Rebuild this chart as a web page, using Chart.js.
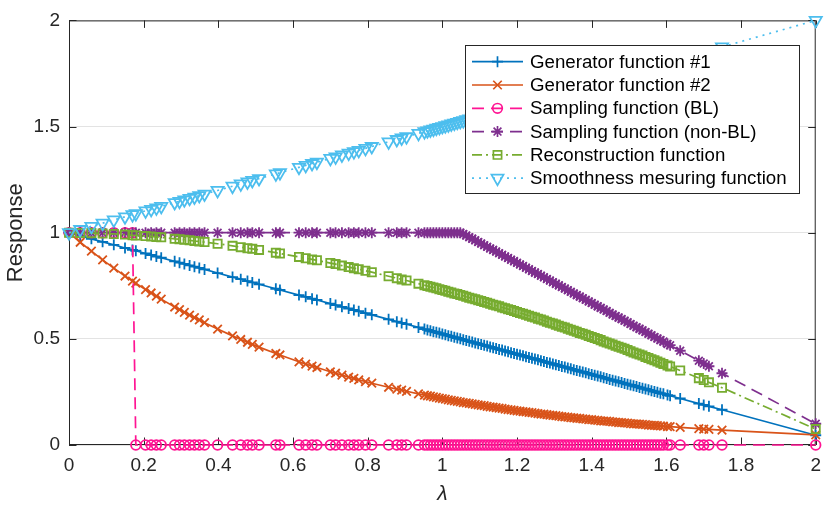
<!DOCTYPE html>
<html lang="en">
<head>
<meta charset="UTF-8">
<title>Response vs lambda</title>
<script src="https://cdn.jsdelivr.net/npm/chart.js"></script>
<style>
  body { margin: 0; background: #fff; }
  #wrap { width: 830px; height: 510px; }
</style>
</head>
<body>
<div id="wrap"><canvas id="chart"></canvas></div>
<script>
// graph frequencies (lambda)
var lambda = [
  0, 0.03, 0.06, 0.09, 0.12, 0.15, 0.17,
  0.179, 0.205, 0.22, 0.234, 0.247, 0.283, 0.296, 0.309, 0.323, 0.336, 0.349, 0.363,
  0.398, 0.438, 0.46, 0.478, 0.491, 0.509,
  0.554, 0.565, 0.616, 0.634, 0.651, 0.664,
  0.70, 0.714, 0.731, 0.749, 0.763, 0.776, 0.794, 0.811,
  0.856, 0.878, 0.891, 0.904, 0.936,
  0.952, 0.96, 0.968, 0.976, 0.984, 0.992, 1.0, 1.008, 1.016, 1.024,
  1.032, 1.04, 1.048, 1.056, 1.064, 1.072, 1.08, 1.088, 1.096, 1.104,
  1.112, 1.12, 1.128, 1.136, 1.144, 1.152, 1.16, 1.168, 1.176, 1.184,
  1.192, 1.2, 1.208, 1.216, 1.224, 1.232, 1.24, 1.248, 1.256, 1.264,
  1.272, 1.28, 1.288, 1.296, 1.304, 1.312, 1.32, 1.328, 1.336, 1.344,
  1.352, 1.36, 1.368, 1.376, 1.384, 1.392, 1.4, 1.408, 1.416, 1.424,
  1.432, 1.44, 1.448, 1.456, 1.464, 1.472, 1.48, 1.488, 1.496, 1.504,
  1.512, 1.52, 1.528, 1.536, 1.544, 1.552, 1.56, 1.568, 1.576, 1.584,
  1.592,
  1.603, 1.61, 1.637, 1.687, 1.70, 1.714, 1.749, 2.0
];

var gen1 = [
  1, .986, .971, .957, .943, .928, .919,
  .915, .902, .895, .888, .882, .865, .859, .853, .846, .840, .834, .827,
  .810, .791, .781, .772, .766, .757,
  .736, .730, .706, .698, .689, .683,
  .666, .659, .651, .643, .636, .630, .621, .613,
  .592, .581, .575, .569, .554,
  .546, .542, .538, .534, .531, .527, .523, .519, .515, .512,
  .508, .504, .500, .496, .492, .489, .485, .481, .477, .473,
  .470, .466, .462, .458, .454, .450, .447, .443, .439, .435,
  .431, .428, .424, .420, .416, .412, .409, .405, .401, .397,
  .393, .389, .386, .382, .378, .374, .370, .367, .363, .359,
  .355, .351, .347, .344, .340, .336, .332, .328, .325, .321,
  .317, .313, .309, .305, .302, .298, .294, .290, .286, .283,
  .279, .275, .271, .267, .264, .260, .256, .252, .248, .244,
  .241,
  .235, .232, .219, .195, .189, .182, .166, .046
];

var gen2 = [
  1, .955, .913, .872, .833, .796, .772,
  .762, .732, .716, .701, .687, .650, .638, .625, .612, .600, .589, .576,
  .546, .514, .497, .484, .474, .461,
  .431, .424, .392, .381, .372, .365,
  .345, .338, .329, .320, .314, .307, .299, .291,
  .272, .263, .258, .253, .241,
  .235, .232, .230, .227, .224, .221, .219, .216, .213, .210,
  .208, .205, .203, .200, .198, .196, .194, .191, .189, .187,
  .185, .182, .180, .178, .176, .174, .172, .169, .167, .165,
  .163, .161, .159, .157, .156, .154, .152, .150, .148, .146,
  .145, .143, .141, .139, .138, .136, .134, .132, .131, .129,
  .128, .126, .125, .123, .122, .120, .119, .117, .116, .114,
  .113, .112, .111, .109, .108, .106, .105, .104, .103, .101,
  .100, .099, .098, .097, .096, .094, .093, .092, .091, .090,
  .089,
  .087, .087, .083, .077, .075, .074, .070, .048
];

var sampBL = [
  1, 1, 1, 1, 1, 1, 1,
  0, 0, 0, 0, 0, 0, 0, 0, 0, 0, 0, 0,
  0, 0, 0, 0, 0, 0,
  0, 0, 0, 0, 0, 0,
  0, 0, 0, 0, 0, 0, 0, 0,
  0, 0, 0, 0, 0,
  0, 0, 0, 0, 0, 0, 0, 0, 0, 0,
  0, 0, 0, 0, 0, 0, 0, 0, 0, 0,
  0, 0, 0, 0, 0, 0, 0, 0, 0, 0,
  0, 0, 0, 0, 0, 0, 0, 0, 0, 0,
  0, 0, 0, 0, 0, 0, 0, 0, 0, 0,
  0, 0, 0, 0, 0, 0, 0, 0, 0, 0,
  0, 0, 0, 0, 0, 0, 0, 0, 0, 0,
  0, 0, 0, 0, 0, 0, 0, 0, 0, 0,
  0,
  0, 0, 0, 0, 0, 0, 0, 0
];

var sampNonBL = [
  1, 1, 1, 1, 1, 1, 1,
  1, 1, 1, 1, 1, 1, 1, 1, 1, 1, 1, 1,
  1, 1, 1, 1, 1, 1,
  1, 1, 1, 1, 1, 1,
  1, 1, 1, 1, 1, 1, 1, 1,
  1, 1, 1, 1, 1,
  1, 1, 1, 1, 1, 1, 1, 1, 1, 1,
  1, 1, 1, .994, .987, .979, .972, .964, .956, .949,
  .941, .934, .926, .919, .911, .903, .896, .888, .881, .873,
  .866, .858, .850, .843, .835, .828, .820, .812, .805, .797,
  .790, .782, .775, .767, .759, .752, .744, .737, .729, .722,
  .714, .706, .699, .691, .684, .676, .669, .661, .653, .646,
  .638, .631, .623, .615, .608, .600, .593, .585, .578, .570,
  .562, .555, .547, .540, .532, .524, .517, .509, .502, .494,
  .487,
  .476, .470, .444, .397, .384, .371, .338, .100
];

var recon = [
  1, .999, .998, .996, .994, .991, .988,
  .987, .984, .982, .980, .978, .971, .969, .967, .964, .961, .959, .956,
  .948, .938, .932, .927, .924, .919,
  .906, .902, .886, .880, .874, .870,
  .857, .852, .845, .838, .833, .828, .821, .814,
  .795, .786, .780, .775, .760,
  .753, .749, .745, .742, .738, .734, .730, .726, .722, .718,
  .714, .711, .707, .703, .698, .694, .690, .686, .682, .678,
  .674, .670, .665, .661, .657, .653, .648, .644, .640, .636,
  .631, .627, .622, .618, .613, .609, .604, .600, .595, .591,
  .586, .581, .576, .572, .567, .562, .557, .553, .548, .543,
  .538, .533, .528, .524, .519, .514, .509, .504, .499, .494,
  .488, .483, .478, .473, .468, .463, .458, .453, .447, .442,
  .436, .431, .426, .421, .415, .410, .404, .399, .393, .388,
  .382,
  .375, .370, .351, .315, .306, .295, .270, .075
];

var smooth = [
  1, 1.015, 1.03, 1.045, 1.06, 1.075, 1.085,
  1.09, 1.103, 1.11, 1.117, 1.124, 1.142, 1.148, 1.155, 1.162, 1.168, 1.175, 1.182,
  1.199, 1.219, 1.23, 1.239, 1.246, 1.255,
  1.277, 1.283, 1.308, 1.317, 1.326, 1.332,
  1.35, 1.357, 1.366, 1.375, 1.382, 1.388, 1.397, 1.406,
  1.428, 1.439, 1.446, 1.452, 1.468,
  1.476, 1.48, 1.484, 1.488, 1.492, 1.496, 1.5, 1.504, 1.508, 1.512,
  1.516, 1.52, 1.524, 1.528, 1.532, 1.536, 1.54, 1.544, 1.548, 1.552,
  1.556, 1.56, 1.564, 1.568, 1.572, 1.576, 1.58, 1.584, 1.588, 1.592,
  1.596, 1.6, 1.604, 1.608, 1.612, 1.616, 1.62, 1.624, 1.628, 1.632,
  1.636, 1.64, 1.644, 1.648, 1.652, 1.656, 1.66, 1.664, 1.668, 1.672,
  1.676, 1.68, 1.684, 1.688, 1.692, 1.696, 1.7, 1.704, 1.708, 1.712,
  1.716, 1.72, 1.724, 1.728, 1.732, 1.736, 1.74, 1.744, 1.748, 1.752,
  1.756, 1.76, 1.764, 1.768, 1.772, 1.776, 1.78, 1.784, 1.788, 1.792,
  1.796,
  1.802, 1.805, 1.819, 1.844, 1.85, 1.857, 1.875, 2
];

var seriesNames = [
  'Generator function #1',
  'Generator function #2',
  'Sampling function (BL)',
  'Sampling function (non-BL)',
  'Reconstruction function',
  'Smoothness mesuring function'
];
var seriesValues = [gen1, gen2, sampBL, sampNonBL, recon, smooth];

var xTicks = [0, 0.2, 0.4, 0.6, 0.8, 1, 1.2, 1.4, 1.6, 1.8, 2];
var yTicks = [0, 0.5, 1, 1.5, 2];

// look of each series (matlab default palette)
var looks = [
  { color: '#0072BD', point: 'cross',    radius: 5.5, rot: 0,   dash: [] },
  { color: '#D95319', point: 'crossRot', radius: 6,   rot: 0,   dash: [] },
  { color: '#FF1493', point: 'circle',   radius: 4.8, rot: 0,   dash: [12, 7] },
  { color: '#7E2F8E', point: 'star',     radius: 5.5, rot: 0,   dash: [12, 7] },
  { color: '#77AC30', point: 'rect',     radius: 5.8, rot: 0,   dash: [10, 4, 2, 4] },
  { color: '#4DBEEE', point: 'triangle', radius: 7,   rot: 180, dash: [2, 5] }
];

var FONT = "'Liberation Sans', Arial, Helvetica, sans-serif";
var AXIS = '#262626';
var LW = 1.7;

var datasets = seriesValues.map(function (vals, i) {
  var lk = looks[i];
  return {
    label: seriesNames[i],
    data: lambda.map(function (x, j) { return { x: x, y: vals[j] }; }),
    borderColor: lk.color,
    borderWidth: LW,
    borderDash: lk.dash,
    pointStyle: lk.point,
    pointRadius: lk.radius,
    pointHoverRadius: lk.radius,
    pointRotation: lk.rot,
    pointBorderColor: lk.color,
    pointBackgroundColor: 'rgba(0,0,0,0)',
    pointBorderWidth: 1.8,
    tension: 0,
    fill: false,
    clip: false,
    order: seriesValues.length - i
  };
});

// box round the plot with matlab style inward ticks
var axesBox = {
  id: 'axesBox',
  beforeDatasetsDraw: function (chart) {
    var a = chart.chartArea, ctx = chart.ctx;
    var xs = chart.scales.x, ys = chart.scales.y;
    var tl = 7.5;
    ctx.save();
    ctx.strokeStyle = AXIS;
    ctx.lineWidth = 1;
    ctx.strokeRect(a.left + 0.5, a.top + 0.5, a.right - a.left - 1, a.bottom - a.top - 1);
    ctx.beginPath();
    xTicks.forEach(function (v) {
      var px = Math.round(xs.getPixelForValue(v)) + 0.5;
      ctx.moveTo(px, a.bottom); ctx.lineTo(px, a.bottom - tl);
      ctx.moveTo(px, a.top); ctx.lineTo(px, a.top + tl);
    });
    yTicks.forEach(function (v) {
      var py = Math.round(ys.getPixelForValue(v)) + 0.5;
      ctx.moveTo(a.left, py); ctx.lineTo(a.left + tl, py);
      ctx.moveTo(a.right, py); ctx.lineTo(a.right - tl, py);
    });
    ctx.stroke();
    ctx.restore();
  }
};

// legend box inside the axes, top right
var boxLegend = {
  id: 'boxLegend',
  afterDraw: function (chart) {
    var ctx = chart.ctx;
    var x0 = 465, y0 = 45, w = 334, h = 148;
    var rowH = 23.3, first = 61.7;
    ctx.save();
    ctx.fillStyle = '#fff';
    ctx.fillRect(x0, y0, w, h);
    ctx.strokeStyle = AXIS;
    ctx.lineWidth = 1;
    ctx.strokeRect(x0 + 0.5, y0 + 0.5, w, h);
    seriesNames.forEach(function (name, i) {
      var lk = looks[i];
      var cy = first + i * rowH;
      ctx.save();
      ctx.strokeStyle = lk.color;
      ctx.lineWidth = LW;
      ctx.setLineDash(lk.dash);
      ctx.beginPath();
      ctx.moveTo(472, cy); ctx.lineTo(523, cy);
      ctx.stroke();
      ctx.setLineDash([]);
      ctx.fillStyle = 'rgba(0,0,0,0)';
      Chart.helpers.drawPoint(ctx, {
        pointStyle: lk.point, radius: lk.radius, rotation: lk.rot, borderWidth: 1.8
      }, 497.5, cy);
      ctx.restore();
      ctx.fillStyle = '#000';
      ctx.font = '18.7px ' + FONT;
      ctx.textBaseline = 'middle';
      ctx.textAlign = 'left';
      ctx.fillText(name, 530, cy + 1);
    });
    ctx.restore();
  }
};

new Chart(document.getElementById('chart'), {
  type: 'line',
  data: { datasets: datasets },
  options: {
    responsive: true,
    maintainAspectRatio: false,
    animation: false,
    layout: { padding: { top: 10, right: 11, left: 0, bottom: 0 } },
    plugins: {
      legend: { display: false },
      tooltip: { enabled: false }
    },
    scales: {
      x: {
        type: 'linear',
        min: 0, max: 2,
        afterBuildTicks: function (s) { s.ticks = xTicks.map(function (v) { return { value: v }; }); },
        afterFit: function (s) { s.height = 65; },
        grid: { display: false, drawTicks: false },
        border: { display: false },
        ticks: {
          color: AXIS, padding: 9, maxRotation: 0,
          font: { family: FONT, size: 19 },
          callback: function (v) { return String(v); }
        },
        title: {
          display: true, text: 'λ', color: AXIS, padding: { top: 0, bottom: 3 },
          font: { family: FONT, size: 21, style: 'italic' }
        }
      },
      y: {
        min: 0, max: 2,
        afterBuildTicks: function (s) { s.ticks = yTicks.map(function (v) { return { value: v }; }); },
        afterFit: function (s) { s.width = 69; },
        grid: { color: '#e3e3e3', lineWidth: 1, drawTicks: false },
        border: { display: false },
        ticks: {
          color: AXIS, padding: 9,
          font: { family: FONT, size: 19 },
          callback: function (v) { return String(v); }
        },
        title: {
          display: true, text: 'Response', color: AXIS, padding: { top: 3, bottom: 0 },
          font: { family: FONT, size: 22 }
        }
      }
    }
  },
  plugins: [axesBox, boxLegend]
});
</script>
</body>
</html>
